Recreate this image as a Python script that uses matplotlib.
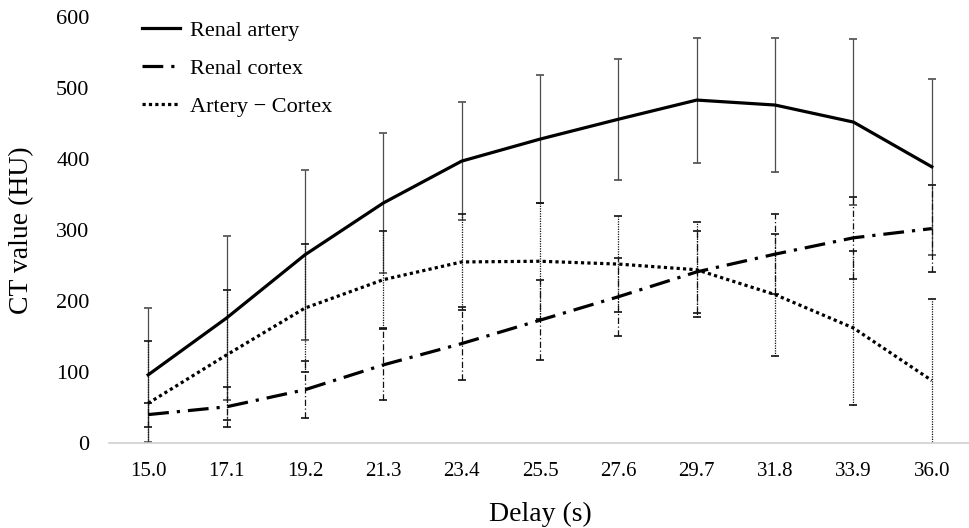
import matplotlib
matplotlib.use("Agg")
import matplotlib.pyplot as plt
import numpy as np

delays = ["15.0", "17.1", "19.2", "21.3", "23.4", "25.5", "27.6", "29.7", "31.8", "33.9", "36.0"]
artery = [96, 176, 265, 338, 397, 428, 456, 483, 476, 452, 389]
artery_sd = [94, 115, 120, 98, 83, 90, 85, 88, 94, 117, 124]
cortex = [40, 51, 75, 110, 140, 173, 206, 241, 266, 289, 302]
cortex_sd = [17, 28, 40, 50, 51, 56, 55, 58, 56, 58, 61]
diff = [56, 124, 190, 230, 255, 256, 252, 244, 209, 162, 88]
diff_sd = [87, 91, 90, 68, 67, 82, 68, 67, 86, 108, 115]
y_ticks = [0, 100, 200, 300, 400, 500, 600]

plt.rcParams['font.family'] = ['Liberation Serif', 'DejaVu Serif']

fig = plt.figure(figsize=(9.7, 5.28), dpi=100)
ax = fig.add_axes([109/970, 1 - 443/528, (971-109)/970, (443-17)/528])

x = np.arange(len(delays))

# error bars
def ebar(vals, sd, ls, color, lw):
    eb = ax.errorbar(x, vals, yerr=sd, fmt='none', ecolor=color, elinewidth=lw,
                     capsize=3, capthick=1.2, zorder=2)
    for lc in eb[2]:
        lc.set_linestyle(ls)
    return eb

ebar(artery, artery_sd, '-', '#4d4d4d', 0.9)
ebar(cortex, cortex_sd, (0, (5, 2, 1, 2)), '#111111', 0.9)
ebar(diff, diff_sd, (0, (1, 1)), '#111111', 0.9)

ax.plot(x, artery, color='black', lw=2.3, ls='-', label='Renal artery', zorder=3,
        solid_joinstyle='miter')
ax.plot(x, cortex, color='black', lw=2.3, ls=(0, (6.5, 2.5, 1, 2.5)), label='Renal cortex', zorder=3)
ax.plot(x, diff, color='black', lw=2.3, ls=(0, (1, 1)), label='Artery \u2212 Cortex', zorder=3)

ax.set_xlim(-0.5, len(delays) - 0.5)
ax.set_ylim(0, 600)
ax.set_xticks(x)
ax.set_xticklabels(delays, fontsize=15)
ax.set_yticks(y_ticks)
ax.set_yticklabels([str(v) for v in y_ticks], fontsize=16)
ax.tick_params(axis='both', length=0)
ax.tick_params(axis='x', pad=14)
ax.tick_params(axis='y', pad=14)

for s in ['top', 'right', 'left']:
    ax.spines[s].set_visible(False)
ax.spines['bottom'].set_color('#d0d0d0')
ax.spines['bottom'].set_linewidth(1.2)

ax.set_xlabel('Delay (s)', fontsize=20, labelpad=15)
ax.set_ylabel('CT value (HU)', fontsize=20)
ax.yaxis.set_label_coords(-0.087, 0.5)

leg = ax.legend(loc='upper left', bbox_to_anchor=(142/970, 1 - 20/528),
                bbox_transform=fig.transFigure, frameon=False, fontsize=16,
                handlelength=1.7, handletextpad=0.45, labelspacing=0.8,
                borderpad=0, borderaxespad=0)

fig.savefig('out.png', dpi=100)
